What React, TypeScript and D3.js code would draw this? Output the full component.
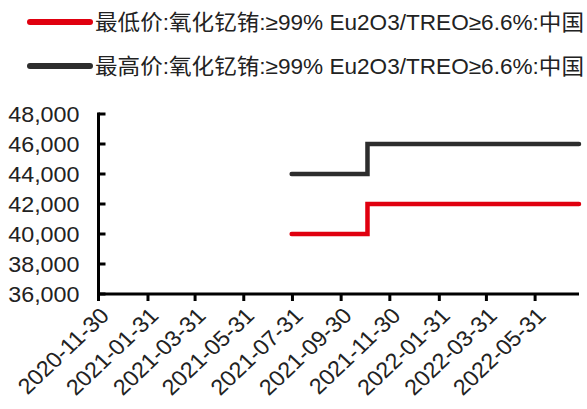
import React from 'react';
import * as d3 from 'd3';

const seriesNames = [
  '最低价:氧化钇铕:≥99% Eu2O3/TREO≥6.6%:中国',
  '最高价:氧化钇铕:≥99% Eu2O3/TREO≥6.6%:中国',
];
const seriesColors = ['#e0000f', '#2d2d2d'];

const dates = ['2021-07-30', '2021-11-02', '2022-07-25'];
const minPrice = [40000, 42000, 42000];
const maxPrice = [44000, 46000, 46000];

const xTickLabels = [
  '2020-11-30', '2021-01-31', '2021-03-31', '2021-05-31', '2021-07-31',
  '2021-09-30', '2021-11-30', '2022-01-31', '2022-03-31', '2022-05-31',
];
const yTicks = [36000, 38000, 40000, 42000, 44000, 46000, 48000];

const W = 587;
const H = 409;
const parse = d3.timeParse('%Y-%m-%d');
const SX = 1.06; // source picture is a little wider than tall

export default function App() {
  // chart area
  const x = d3.scaleTime()
    .domain([parse('2020-11-30')!, parse('2022-07-25')!])
    .range([98.5, 579]);
  const y = d3.scaleLinear().domain([36000, 48000]).range([294, 114]);
  const fmt = d3.format(',');

  const line = d3.line<[Date, number]>()
    .x(d => x(d[0]))
    .y(d => y(d[1]))
    .curve(d3.curveStepAfter);

  const series = [minPrice, maxPrice].map(vals =>
    dates.map((d, i) => [parse(d)!, vals[i]] as [Date, number]));

  const font = '"Liberation Sans", Arial, "Noto Sans CJK SC", sans-serif';
  const x0 = x.range()[0];
  const yBottom = y(36000);

  return (
    <svg width={W} height={H} style={{ position: 'absolute', left: 0, top: 0, background: '#fff' }}
      fontFamily={font}>
      {/* legend */}
      {seriesNames.map((name, i) => (
        <g key={name} transform={`translate(0,${22 + i * 44})`}>
          <line x1={30} x2={90} y1={0} y2={0} stroke={seriesColors[i]} strokeWidth={6} strokeLinecap="round" />
          <text x={95} y={0} dy="0.36em" fontSize={21.5} fill="#222"
            textLength={489} lengthAdjust="spacingAndGlyphs">{name}</text>
        </g>
      ))}

      {/* y axis */}
      <line x1={x0} x2={x0} y1={y(48000) - 1.5} y2={yBottom} stroke="#000" strokeWidth={3} />
      {yTicks.map(t => (
        <g key={t}>
          <line x1={x0} x2={x0 + 7} y1={y(t)} y2={y(t)} stroke="#000" strokeWidth={3} />
          <text transform={`translate(79.5,${y(t)}) scale(${SX},1)`} dy="0.36em" textAnchor="end"
            fontSize={22} fill="#222">{fmt(t)}</text>
        </g>
      ))}

      {/* x axis */}
      <line x1={x0 - 1.5} x2={x.range()[1]} y1={yBottom} y2={yBottom} stroke="#000" strokeWidth={3} />
      {xTickLabels.map(t => {
        const px = x(parse(t)!);
        return (
          <g key={t}>
            <line x1={px} x2={px} y1={yBottom} y2={yBottom + 7} stroke="#000" strokeWidth={3} />
            <text transform={`translate(${px + 12},${yBottom + 23}) scale(${SX},1) rotate(-45)`}
              textAnchor="end" fontSize={22} fill="#222">{t}</text>
          </g>
        );
      })}

      {/* series */}
      {series.map((s, i) => (
        <path key={i} d={line(s) ?? ''} fill="none" stroke={seriesColors[i]} strokeWidth={4.5}
          strokeLinecap="round" strokeLinejoin="miter" />
      ))}
    </svg>
  );
}
